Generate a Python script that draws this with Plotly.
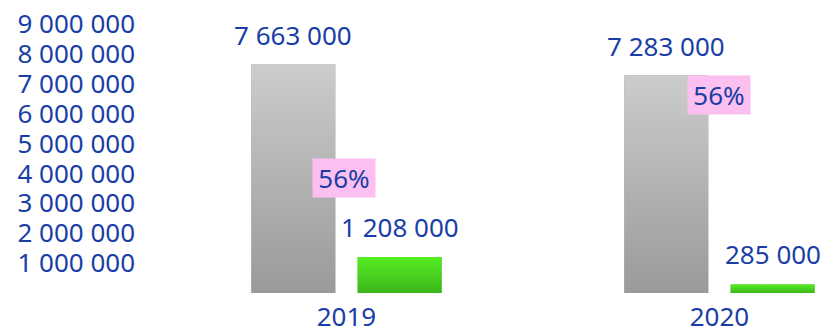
import plotly.graph_objects as go

# --- data -------------------------------------------------------------
years = ["2019", "2020"]
total_values = [7663000, 7283000]       # grey bars
part_values = [1208000, 285000]         # green bars
share_labels = ["56%", "56%"]
y_ticks = [1000000, 2000000, 3000000, 4000000, 5000000,
           6000000, 7000000, 8000000, 9000000]

# --- style ------------------------------------------------------------
FONT = "Noto Sans"
TEXT = "#1a3ea6"
PINK = "#fcc0f0"
GREY = ("#9a9a9a", "#cccccc")   # bottom, top
GREEN = ("#3cb51b", "#55ee22")
BAR_W = 0.225
OFFSET = 0.255                  # outer edge distance of each bar from group centre

xs = list(range(len(years)))


def fmt(v):
    return f"{v:,}".replace(",", " ")


fig = go.Figure()

# plain bars (solid tone), gradient fill drawn over them below
for vals, cols, off in ((total_values, GREY, -OFFSET), (part_values, GREEN, OFFSET - BAR_W)):
    fig.add_trace(go.Bar(
        x=xs, y=vals, width=BAR_W, offset=off,
        marker=dict(color=cols[0], line=dict(width=0)),
        showlegend=False, hoverinfo="skip",
    ))
    # vertical gradient fill for each bar
    for xi, v in zip(xs, vals):
        x0, x1 = xi + off, xi + off + BAR_W
        fig.add_trace(go.Scatter(
            x=[x0, x1, x1, x0, x0], y=[0, 0, v, v, 0],
            mode="lines", line=dict(width=0), fill="toself",
            fillgradient=dict(type="vertical", start=0, stop=v,
                              colorscale=[[0, cols[0]], [1, cols[1]]]),
            showlegend=False, hoverinfo="skip",
        ))

label_font = dict(family=FONT, size=26, color=TEXT)
annotations = []
for xi, tv, pv in zip(xs, total_values, part_values):
    annotations.append(dict(x=xi - OFFSET + BAR_W / 2, y=tv, text=fmt(tv),
                            showarrow=False, yanchor="bottom", yshift=9,
                            font=label_font))
    annotations.append(dict(x=xi + OFFSET - BAR_W / 2, y=pv, text=fmt(pv),
                            showarrow=False, yanchor="bottom", yshift=10,
                            font=label_font))

# share boxes
box = dict(showarrow=False, bgcolor=PINK, borderpad=3, width=56, height=32,
           font=label_font)
annotations.append(dict(x=xs[0] - 0.008, y=total_values[0] / 2, text=share_labels[0],
                        yanchor="middle", **box))
annotations.append(dict(x=xs[1], y=total_values[1], text=share_labels[1],
                        yanchor="top", **box))

fig.update_layout(
    width=825, height=335,
    margin=dict(l=160, r=0, t=6, b=42),
    paper_bgcolor="white", plot_bgcolor="white",
    separators=". ",
    font=dict(family=FONT, size=26, color=TEXT),
    barmode="overlay",
    annotations=annotations,
    xaxis=dict(range=[-0.5, 1.283], tickvals=xs, ticktext=years,
               showgrid=False, zeroline=False, showline=False, ticks="",
               ticklabelstandoff=6, automargin=False, fixedrange=True),
    yaxis=dict(range=[0, 9600000], tickvals=y_ticks, tickformat=",d",
               showgrid=False, zeroline=False, showline=False, ticks="",
               ticklabelstandoff=24, automargin=False, fixedrange=True),
)

fig.write_html("out.html")
